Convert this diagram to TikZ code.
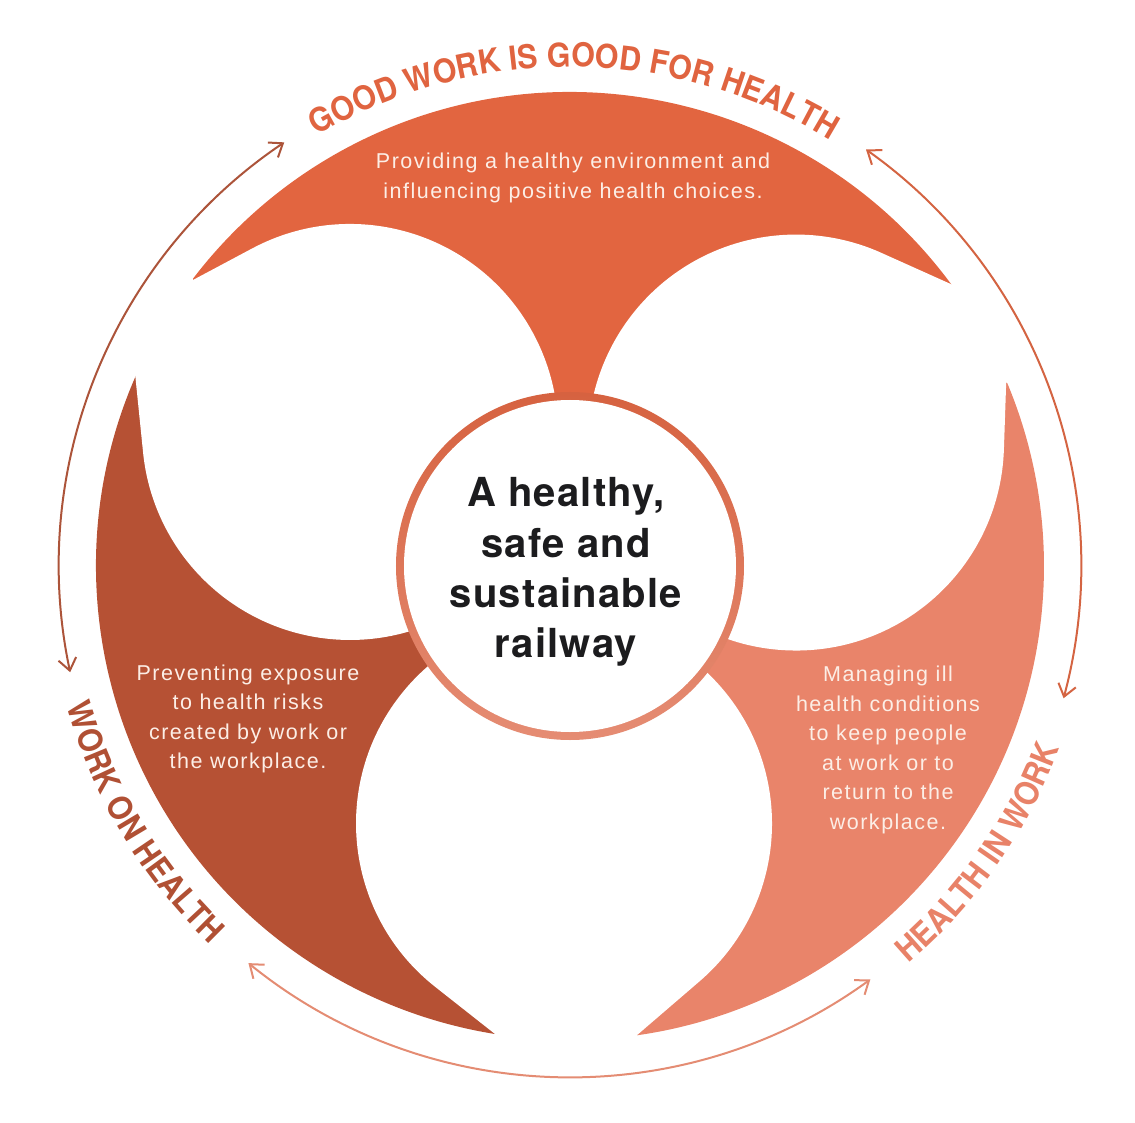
\documentclass[tikz,border=0pt]{standalone}
\usepackage{fontspec}
\setmainfont{Liberation Sans}
\newfontfamily\bodyfont[LetterSpace=7]{Liberation Sans}
\newfontfamily\ttlfont[FakeStretch=0.92]{TeX Gyre Heros}
\newfontfamily\hubfont[LetterSpace=3]{TeX Gyre Heros}
\usetikzlibrary{arrows.meta,decorations.text}
\definecolor{ctop}{RGB}{226,101,64}
\definecolor{cleft}{RGB}{182,81,52}
\definecolor{cright}{RGB}{233,132,106}
\definecolor{ctxt}{RGB}{252,238,230}
\definecolor{cttop}{RGB}{224,100,64}
\definecolor{ctleft}{RGB}{176,80,52}
\definecolor{ctright}{RGB}{232,130,104}
\definecolor{carl}{RGB}{172,84,58}
\definecolor{carr}{RGB}{212,100,66}
\definecolor{carb}{RGB}{228,140,115}
\definecolor{cdark}{RGB}{28,28,30}
\definecolor{ringa}{RGB}{214,98,64}
\definecolor{ringb}{RGB}{200,88,60}
\definecolor{ringc}{RGB}{229,140,115}
\newcommand\ttl{\ttlfont\bfseries\fontsize{33}{33}\selectfont}
\tikzset{
  bodytxt/.style={align=center, text=ctxt, font=\bodyfont\fontsize{21.5}{29.5}\selectfont},
  lobe/.style={fill=white},
  arr/.style={line width=2pt, line cap=round,
    arrows={Straight Barb[length=12pt,width=18pt]-Straight Barb[length=12pt,width=18pt]}},
}
\begin{document}
\begin{tikzpicture}[x=1pt,y=1pt]
\useasboundingbox (-570,-556) rectangle (565,566);
% coloured sectors
\fill[ctop] (0,0) -- (28.6:474) arc[start angle=28.6, end angle=148.6, radius=474] -- cycle;
\fill[cleft] (0,0) -- (148.6:474) arc[start angle=148.6, end angle=268.6, radius=474] -- cycle;
\fill[cright] (0,0) -- (268.6:474) arc[start angle=268.6, end angle=388.6, radius=474] -- cycle;
% white lobes (circle of radius 208 with tangents to the blade tips)
\foreach \r in {0,240}{
  \path[lobe, rotate=\r] (-377,286) -- (-317.9,317.5)
    arc[start angle=118.1, end angle=-174.35, radius=208]
    -- (-435,193) -- (-490,178) -- (-455,275) -- (-386,350) -- cycle;
}
% bottom lobe (slightly wider gap)
\path[lobe] (-74.97,-468.0) -- (-134.6,-421.0)
  arc[start angle=231.8, end angle=-49.2, radius=208]
  -- (66.8,-469.3) -- (90.9,-513.4) -- (-10.7,-531.5) -- (-110.1,-509.3) -- cycle;
% centre
\shade[top color=ringa, middle color=ringb, bottom color=ringc] (0,0) circle[radius=174];
\fill[white] (0,0) circle[radius=166];
\node[align=center, text=cdark, font=\hubfont\bfseries\fontsize{40}{50.3}\selectfont] (hub) at (-4,-6)
  {A healthy,\\safe and\\sustainable\\railway};
% blade texts
\node[bodytxt] (ttop) at (3,388) {Providing a healthy environment and\\influencing positive health choices.};
\node[bodytxt] (tleft) at (-322,-153) {Preventing exposure\\to health risks\\created by work or\\the workplace.};
\node[bodytxt] (tright) at (318,-184) {Managing ill\\health conditions\\to keep people\\at work or to\\return to the\\workplace.};
% curved titles
\path[decorate, decoration={text along path, text={|\ttl|GOOD WORK IS GOOD FOR HEALTH},
  text align=center, text color=cttop}] (150:499) arc[start angle=150, end angle=29, radius=499];
\path[decorate, decoration={text along path, text={|\ttl|WORK ON HEALTH},
  text align=center, text color=ctleft}] (171:522) arc[start angle=171, end angle=251, radius=522];
\path[decorate, decoration={text along path, text={|\ttl|HEALTH IN WORK},
  text align=center, text color=ctright}] (285:522) arc[start angle=285, end angle=365, radius=522];
% cycle arrows
\draw[arr, carl] (124:511) arc[start angle=124, end angle=192, radius=511];
\draw[arr, carb] (231:511) arc[start angle=231, end angle=306, radius=511];
\draw[arr, carr] (345:511) arc[start angle=345, end angle=414.6, radius=511];
\end{tikzpicture}
\end{document}
